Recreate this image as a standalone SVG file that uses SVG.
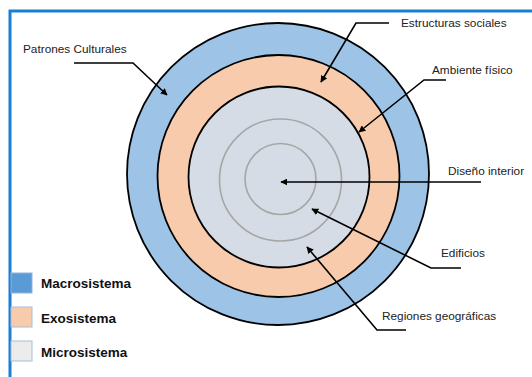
<svg xmlns="http://www.w3.org/2000/svg" width="532" height="377" viewBox="0 0 532 377">
<defs>
<marker id="ah" viewBox="0 0 10 10" refX="9" refY="5" markerWidth="7" markerHeight="7" markerUnits="userSpaceOnUse" orient="auto">
<path d="M0,0 L10,5 L0,10 z" fill="#000"/>
</marker>
</defs>
<style>
.ring{stroke:#000;stroke-width:1.8}
.grey{fill:none;stroke:#a6a6a6;stroke-width:1.6}
.lbl{font-family:"Liberation Sans",Arial,sans-serif;font-size:11.8px;fill:#222}
.leg{font-family:"Liberation Sans",Arial,sans-serif;font-size:13.5px;font-weight:bold;fill:#111}
.conn path{fill:none;stroke:#000;stroke-width:1.6;marker-end:url(#ah)}
</style>
<rect width="532" height="377" fill="#fff"/>
<g id="frame">
<path d="M10,377 V11 H532" fill="none" stroke="#1a7fd4" stroke-width="3"/>
</g>
<g id="macrosistema-ring"><circle class="ring" cx="278" cy="174" r="151" fill="#9dc3e6"/></g>
<g id="exosistema-ring"><circle class="ring" cx="278.5" cy="176" r="121" fill="#f8cbad"/></g>
<g id="microsistema-ring"><circle class="ring" cx="279" cy="177" r="90.5" fill="#d6dce5"/></g>
<g id="inner-rings">
<circle class="grey" cx="280.5" cy="180" r="61"/>
<circle class="grey" cx="280.5" cy="179" r="35.5"/>
</g>
<g class="conn" id="connectors">
<path d="M74,63 H133 L167,95"/>
<path d="M389,23 H356 L321,82"/>
<path d="M446,80 H424 L359,132"/>
<path d="M481,182 H281"/>
<path d="M461,268 H431 L312,209"/>
<path d="M406,330 H377 L307,247"/>
</g>
<g id="label-patrones"><text class="lbl" x="23" y="53">Patrones  Culturales</text></g>
<g id="label-estructuras"><text class="lbl" x="401" y="27">Estructuras sociales</text></g>
<g id="label-ambiente"><text class="lbl" x="432" y="74">Ambiente físico</text></g>
<g id="label-diseno"><text class="lbl" x="448" y="175">Diseño interior</text></g>
<g id="label-edificios"><text class="lbl" x="441" y="257">Edificios</text></g>
<g id="label-regiones"><text class="lbl" x="382" y="320">Regiones  geográficas</text></g>
<g id="legend-macro">
<rect x="11" y="273" width="21" height="20" fill="#5b9bd5" stroke="#8fb4de" stroke-width="1"/>
<text class="leg" x="41" y="288">Macrosistema</text>
</g>
<g id="legend-exo">
<rect x="11" y="307" width="21" height="20" fill="#f8cbad" stroke="#a9bdd6" stroke-width="1"/>
<text class="leg" x="41" y="323">Exosistema</text>
</g>
<g id="legend-micro">
<rect x="11" y="341" width="21" height="20" fill="#ececec" stroke="#a9bdd6" stroke-width="1"/>
<text class="leg" x="41" y="357">Microsistema</text>
</g>
</svg>
